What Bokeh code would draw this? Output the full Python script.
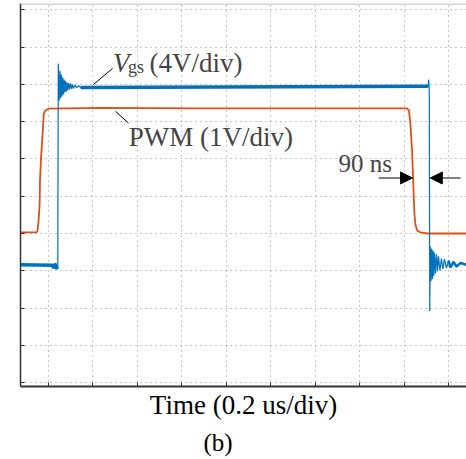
import numpy as np
from bokeh.plotting import figure
from bokeh.models import (Label, Arrow, NormalHead, FixedTicker, Range1d, Span, Title,
                          CustomLabelingPolicy)
from bokeh.embed import file_html
from bokeh.resources import INLINE

# time axis in ns (0.2 us/div), amplitude in divisions
x_ticks = [0, 200, 400, 600, 800, 1000, 1200, 1400, 1600, 1800]
y_ticks = [0, 1, 2, 3, 4, 5, 6, 7, 8, 9, 10]

# PWM trace (1 V/div)
pwm_t = [-126, -54, -49, -45, -40, -38, -34, -27, -21, -13, 0, 234, 683, 1133,
         1609, 1620, 1627, 1634, 1639, 1642, 1645, 1649, 1657, 1672, 1703, 1879]
pwm_v = [4.03, 4.03, 4.08, 4.32, 4.77, 5.44, 5.97, 6.64, 7.23, 7.31, 7.35, 7.37, 7.36, 7.36,
         7.36, 7.31, 6.91, 6.24, 5.44, 4.91, 4.51, 4.24, 4.08, 4.03, 4.00, 4.00]

# Vgs trace (4 V/div)
vgs_t = [-126, 18, 22.5, 27, 33.7, 38.2, 41.8, 44.0, 48.5, 51.7, 54.8, 58.0, 61.1, 64.3,
         67.4, 70.6, 73.7, 76.8, 80.0, 83.1, 86.3, 89.9, 94.4, 98.9, 103.4, 107.9, 112.4,
         119.1, 125.8, 134.8, 143.8, 1706, 1708.6, 1711.3, 1713.6, 1715.8, 1719.0, 1722.1,
         1725.3, 1728.4, 1731.6, 1734.7, 1739.2, 1743.7, 1748.2, 1752.7, 1759.4, 1766.1,
         1772.9, 1779.6, 1788.6, 1797.6, 1806.6, 1820.1, 1833.6, 1851.6, 1879]
vgs_v = [3.16, 3.15, 3.07, 3.17, 3.15, 3.04, 3.09, 8.56, 7.57, 8.37, 7.63, 8.27, 7.68, 8.19,
         7.73, 8.13, 7.79, 8.09, 7.81, 8.05, 7.84, 8.04, 7.87, 8.03, 7.88, 8.00, 7.89,
         7.99, 7.91, 7.97, 7.92, 7.95, 8.13, 7.89, 1.92, 3.65, 2.72, 3.60, 2.77, 3.55,
         2.85, 3.49, 2.93, 3.44, 2.99, 3.39, 3.01, 3.33, 3.04, 3.31, 3.07, 3.27, 3.09,
         3.24, 3.11, 3.21, 3.16]

# annotations
vgs_leader_t = [202, 288]
vgs_leader_v = [8.00, 8.43]
pwm_leader_t = [301, 360]
pwm_leader_v = [7.28, 6.96]
delay_level = 5.49
delay_left_from, delay_left_to = 1484, 1636
delay_right_from, delay_right_to = 1852, 1716

BLUE = "#0072BD"
ORANGE = "#D95319"
FONT = "Liberation Serif"

p = figure(width=466, height=459, output_backend="svg", toolbar_location=None,
           x_range=Range1d(-125.8, 1878.7), y_range=Range1d(-0.107, 10.174),
           min_border_left=20, min_border_right=0, min_border_top=3, min_border_bottom=71,
           background_fill_color="white", border_fill_color="white")
p.outline_line_color = None

no_labels = CustomLabelingPolicy(code="""
if (typeof indices.clear === 'function') { indices.clear(); }
else { for (const i of Array.from(indices)) { indices.unset(i); } }
return indices;
""")

for ax, ticks in ((p.xaxis, x_ticks), (p.yaxis, y_ticks)):
    ax.ticker = FixedTicker(ticks=ticks)
    ax.major_label_policy = no_labels
    ax.major_label_text_font_size = "0px"
    ax.major_label_standoff = 0
    ax.major_tick_in = 4
    ax.major_tick_out = 0
    ax.minor_tick_line_color = None
    ax.axis_line_color = "#333333"
    ax.major_tick_line_color = "#333333"
p.xaxis.axis_line_width = 2
p.yaxis.axis_line_width = 1.5

p.xaxis.axis_label = "Time (0.2 us/div)"
p.xaxis.axis_label_text_font = FONT
p.xaxis.axis_label_text_font_style = "normal"
p.xaxis.axis_label_text_font_size = "27px"
p.xaxis.axis_label_text_color = "black"
p.xaxis.axis_label_standoff = 3

for g in (p.xgrid, p.ygrid):
    g.grid_line_color = "#8a8a8a"
    g.grid_line_dash = "1 4"
    g.grid_line_width = 1

p.add_layout(Span(location=10.16, dimension="width", line_color="#aaaaaa", line_width=1))

# traces
p.line(pwm_t, pwm_v, line_color=ORANGE, line_width=1.8)
p.line(vgs_t, vgs_v, line_color=BLUE, line_width=1.2)
vt = np.array(vgs_t)
vv = np.array(vgs_v)
for lo, hi, w in ((-200, 39, 3.5), (143, 1707, 3.5), (1797, 1900, 2.5)):
    m = (vt >= lo) & (vt <= hi)
    p.line(vt[m], vv[m], line_color=BLUE, line_width=w)

# leaders
p.line(vgs_leader_t, vgs_leader_v, line_color="black", line_width=1)
p.line(pwm_leader_t, pwm_leader_v, line_color="black", line_width=1)

# labels
p.add_layout(Label(x=290, y=8.57, text="V", text_font=FONT, text_font_style="italic",
                   text_font_size="27px", text_baseline="alphabetic"))
p.add_layout(Label(x=357, y=8.46, text="gs", text_font=FONT, text_font_size="18px",
                   text_baseline="alphabetic"))
p.add_layout(Label(x=454, y=8.57, text="(4V/div)", text_font=FONT, text_font_size="27px",
                   text_baseline="alphabetic"))
p.add_layout(Label(x=361, y=6.60, text="PWM (1V/div)", text_font=FONT, text_font_size="27px",
                   text_baseline="alphabetic"))
p.add_layout(Label(x=1303, y=5.89, text="90 ns", text_font=FONT, text_font_size="25px",
                   text_baseline="alphabetic"))

p.add_layout(Arrow(end=NormalHead(size=12, fill_color="black", line_color="black"),
                   x_start=delay_left_from, y_start=delay_level, x_end=delay_left_to, y_end=delay_level,
                   line_color="black", line_width=1))
p.add_layout(Arrow(end=NormalHead(size=12, fill_color="black", line_color="black"),
                   x_start=delay_right_from, y_start=delay_level, x_end=delay_right_to, y_end=delay_level,
                   line_color="black", line_width=1))

p.add_layout(Title(text="(b)", align="left", offset=183, standoff=8, text_font=FONT,
                   text_font_size="25px", text_font_style="normal", text_color="black"), "below")

open("out.html", "w").write(file_html(p, INLINE))
